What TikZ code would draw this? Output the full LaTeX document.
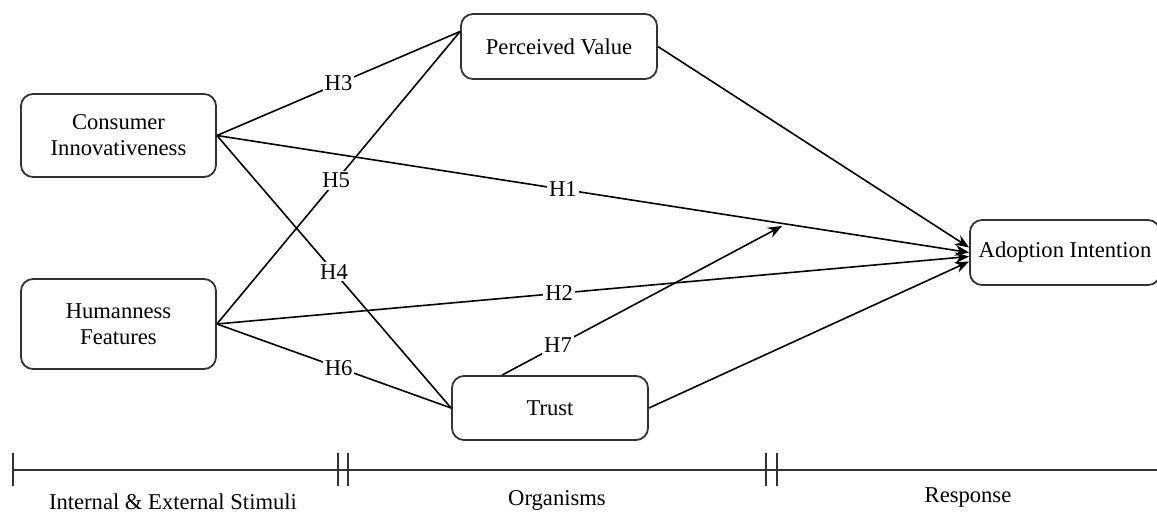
\documentclass[tikz,border=0pt]{standalone}
\usepackage{fontspec}
\setmainfont{Liberation Serif}
\usetikzlibrary{positioning, arrows.meta, calc}
\definecolor{randgrau}{HTML}{333333}

\begin{document}
\begin{tikzpicture}[x=0.5pt, y=-0.5pt, >={Stealth[length=7pt, width=5.5pt]},
    font=\fontsize{11.3}{13}\selectfont,
    box/.style={draw=randgrau, line width=0.9pt, rounded corners=6pt, align=center, inner sep=0pt},
    pfad/.style={line width=0.8pt},
    hyp/.style={fill=white, inner sep=1pt}]

    % Rahmen der Abbildung
    \useasboundingbox (0,0) rectangle (1157,514);

    % Konstrukte (Stimuli, Organismus, Reaktion)
    \node[box, minimum width=97.5pt, minimum height=41.5pt] (ci) at (118.5,135.5) {Consumer\\Innovativeness};
    \node[box, minimum width=97.5pt, minimum height=45pt] (hf) at (118.5,324) {Humanness\\Features};
    \node[box, minimum width=98pt, minimum height=32.5pt] (pv) at (559,46.5) {Perceived Value};
    \node[box, minimum width=98pt, minimum height=32pt] (trust) at (550,408) {Trust};
    \node[box, minimum width=95pt, minimum height=32.5pt] (ai) at (1065,252.5) {Adoption Intention};

    % Hypothesen ohne Pfeilspitze
    \draw[pfad] (ci.east) -- node[hyp, pos=0.5] {H3} ([yshift=7.5pt]pv.west);
    \draw[pfad] (hf.east) -- node[hyp, pos=0.49] {H5} ([yshift=7.5pt]pv.west);
    \draw[pfad] (ci.east) -- node[hyp, pos=0.5] {H4} (trust.west);
    \draw[pfad] (hf.east) -- node[hyp, pos=0.52] {H6} (trust.west);

    % Pfade zur Adoptionsabsicht
    \draw[pfad, ->] (pv.east) -- ([yshift=2.5pt]ai.west);
    \draw[pfad, ->] (ci.east) -- node[hyp, pos=0.46] {H1} (ai.west);
    \draw[pfad, ->] (hf.east) -- node[hyp, pos=0.455] {H2} ([yshift=-2pt]ai.west);
    \draw[pfad, ->] (trust.east) -- ([yshift=-4.5pt]ai.west);

    % Moderation durch Vertrauen
    \coordinate (mod) at (782,226);
    \draw[pfad, ->] ([xshift=-24pt]trust.north) -- node[hyp, pos=0.2] {H7} (mod);

    % Zeitachse unten mit Trennstrichen
    \draw[line width=0.9pt, randgrau] (13,470) -- (1162,470);
    \draw[line width=0.9pt, randgrau] (13,453) -- (13,486);
    \foreach \x in {338,348,766,777}
        \draw[line width=0.9pt, randgrau] (\x,453) -- (\x,486);

    % Beschriftungen der Phasen
    \node (stimuli) at (173,502) {Internal \& External Stimuli};
    \node (organism) at (557,500) {Organisms};
    \node (response) at (968,498) {Response};

\end{tikzpicture}
\end{document}
